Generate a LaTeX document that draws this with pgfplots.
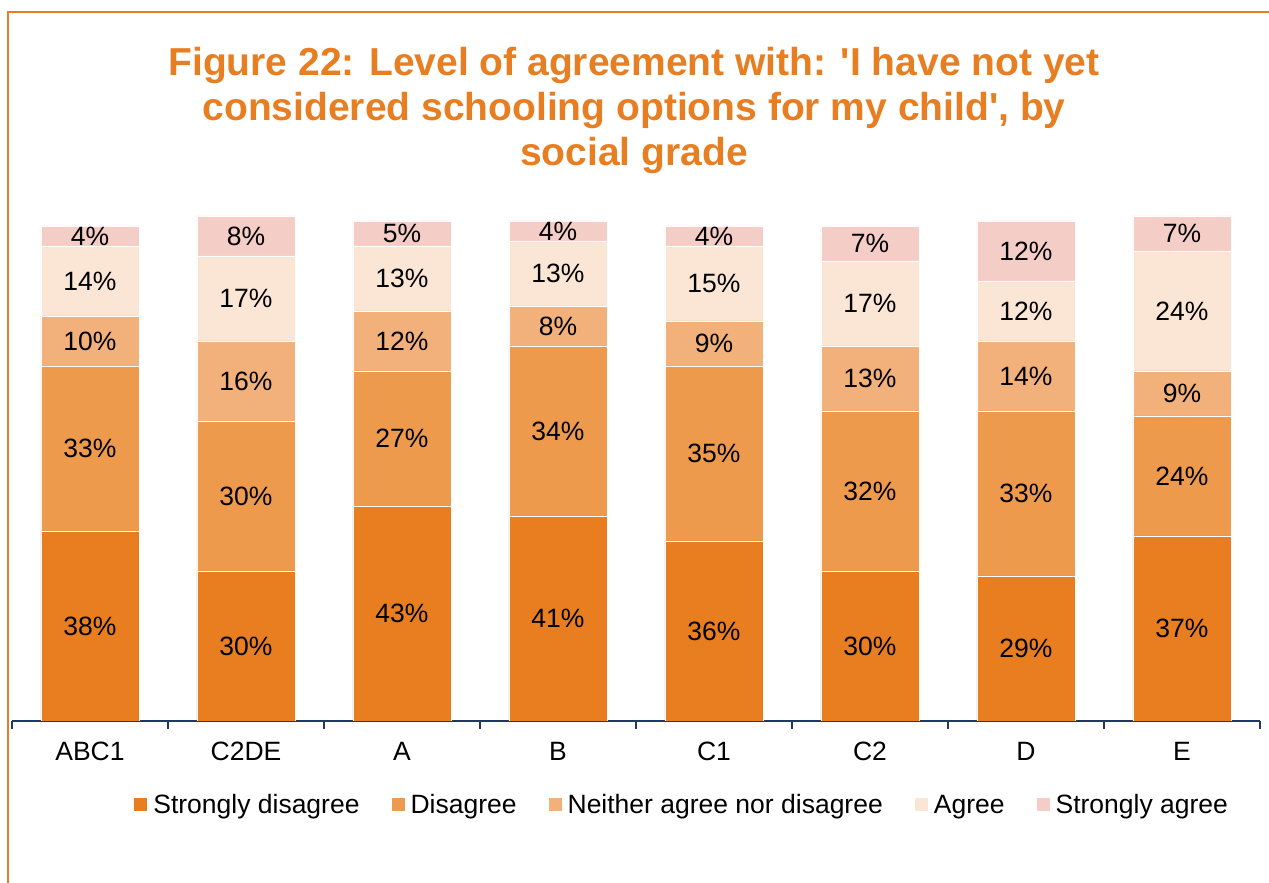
\documentclass[border=0pt]{standalone}
\usepackage{fontspec}
\setmainfont{Liberation Sans}[Ligatures=TeXOff]
\usepackage{pgfplots}
\pgfplotsset{compat=1.18}
\usepackage{pgfplotstable}
\definecolor{sdis}{HTML}{E87E1F}
\definecolor{dis}{HTML}{EE9A4C}
\definecolor{neit}{HTML}{F2B07A}
\definecolor{agr}{HTML}{FBE5D4}
\definecolor{sagr}{HTML}{F4CDC7}
\definecolor{ttl}{HTML}{E87E22}
\definecolor{navy}{HTML}{1F3864}
\pgfplotstableread{
x sd d n a sa
0 38 33 10 14 4
1 30 30 16 17 8
2 43 27 12 13 5
3 41 34 8 13 4
4 36 35 9 15 4
5 30 32 13 17 7
6 29 33 14 12 12
7 37 24 9 24 7
}\data
\pgfplotsset{
 mylegend/.style={legend image code/.code={\fill[##1,draw=none] (0pt,-6.5pt) rectangle (13pt,6.5pt);}},
}
\begin{document}
\begin{tikzpicture}
\useasboundingbox (0,0) rectangle (1269pt,883pt);
\draw[ttl, line width=1.5pt] (8pt,-5pt) -- (8pt,871pt) -- (1275pt,871pt);
\node[ttl, font=\bfseries\fontsize{39}{45}\selectfont, align=center, anchor=north, inner sep=0pt] at (634pt,836pt) {Figure 22: Level of agreement with:  'I have not yet\\considered schooling options for my child', by\\social grade};
\begin{axis}[
  at={(12pt,162pt)}, anchor=south west,
  scale only axis, width=1248pt, height=520pt,
  ybar stacked, bar width=98pt,
  xmin=-0.5, xmax=7.5, ymin=0, ymax=104,
  axis y line=none,
  axis x line*=bottom,
  x axis line style={navy, line width=1.5pt, -},
  xtick={0,...,7},
  xticklabels={ABC1,C2DE,A,B,C1,C2,D,E},
  minor xtick={-0.5,0.5,...,7.5},
  major tick length=0pt, minor tick length=8pt,
  tick align=outside,
  minor tick style={navy, line width=1.2pt},
  xticklabel style={font=\fontsize{26.5}{30}\selectfont, text height=0.72em, text depth=0pt, yshift=-29pt},
  point meta=explicit symbolic,
  nodes near coords={\pgfplotspointmeta\%},
  every node near coord/.style={anchor=center, font=\fontsize{26.5}{30}\selectfont, text=black},
  legend style={at={(0.537,-0.1615)}, anchor=center, draw=none, fill=none, font=\fontsize{26.5}{30}\selectfont, /tikz/every even column/.append style={column sep=30pt}, /tikz/every odd column/.append style={column sep=4pt}},
  legend columns=5,
]
\addplot[fill=sdis, draw=white, line width=0.6pt, mylegend] table[x=x, y=sd, meta=sd] {\data};
\addlegendentry{Strongly disagree}
\addplot[fill=dis, draw=white, line width=0.6pt, mylegend] table[x=x, y=d, meta=d] {\data};
\addlegendentry{Disagree}
\addplot[fill=neit, draw=white, line width=0.6pt, mylegend] table[x=x, y=n, meta=n] {\data};
\addlegendentry{Neither agree nor disagree}
\addplot[fill=agr, draw=white, line width=0.6pt, mylegend] table[x=x, y=a, meta=a] {\data};
\addlegendentry{Agree}
\addplot[fill=sagr, draw=white, line width=0.6pt, mylegend] table[x=x, y=sa, meta=sa] {\data};
\addlegendentry{Strongly agree}
\end{axis}
\end{tikzpicture}
\end{document}
